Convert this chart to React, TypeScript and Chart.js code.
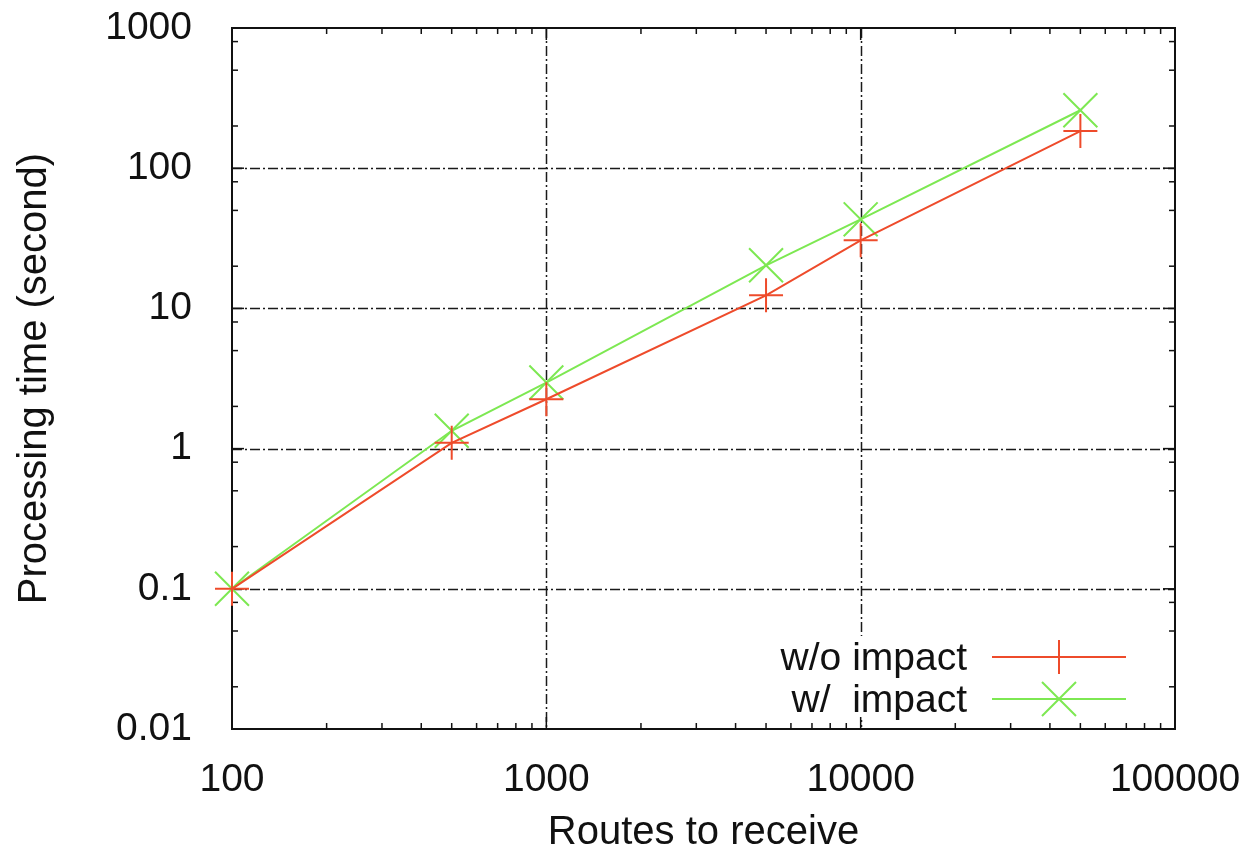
import React, { useEffect, useRef } from 'react';
import { Chart, registerables } from 'chart.js';

Chart.register(...registerables);

const routes = [100, 500, 1000, 5000, 10000, 50000];
const withoutImpact = [0.1, 1.1, 2.25, 12.4, 30.6, 184];
const withImpact = [0.1, 1.34, 2.96, 20.3, 43.2, 259];
const xTicks = [100, 1000, 10000, 100000];
const yTicks = [0.01, 0.1, 1, 10, 100, 1000];
const xMinorSteps = [2, 3, 4, 5, 6, 7, 8, 9];
const yMinorSteps = [2, 5, 8];
const seriesLabels = ['w/o impact', 'w/  impact'];
const seriesColors = ['#ee4b2b', '#7de852'];
const seriesMarkers = ['cross', 'crossRot'];
const seriesRadius = [17, 24];

const FONT = '"Liberation Sans", Arial, Helvetica, sans-serif';
const TEXT = '#111111';

const framePlugin = {
  id: 'gnuFrame',
  beforeDatasetsDraw(chart: any) {
    const { ctx, chartArea: a, scales } = chart;
    const x = scales.x;
    const y = scales.y;
    const seg = (x1: number, y1: number, x2: number, y2: number) => {
      ctx.beginPath();
      ctx.moveTo(x1, y1);
      ctx.lineTo(x2, y2);
      ctx.stroke();
    };
    ctx.save();
    // dash-dot grid
    ctx.strokeStyle = '#1a1a1a';
    ctx.lineWidth = 1.5;
    ctx.setLineDash([10, 3, 2, 3]);
    xTicks.slice(1, -1).forEach((v) => {
      const px = Math.round(x.getPixelForValue(v)) + 0.5;
      seg(px, a.top, px, a.bottom);
    });
    yTicks.slice(1, -1).forEach((v) => {
      const py = Math.round(y.getPixelForValue(v)) + 0.5;
      seg(a.left, py, a.right, py);
    });
    ctx.setLineDash([]);
    // opaque key area
    ctx.fillStyle = '#ffffff';
    ctx.fillRect(a.right - 420, a.bottom - 93, 375, 84);
    // ticks
    ctx.strokeStyle = '#111111';
    ctx.lineWidth = 1.5;
    xTicks.forEach((d, i) => {
      const px = x.getPixelForValue(d);
      seg(px, a.bottom, px, a.bottom - 12);
      seg(px, a.top, px, a.top + 12);
      if (i < xTicks.length - 1) {
        xMinorSteps.forEach((m) => {
          const p = x.getPixelForValue(d * m);
          seg(p, a.bottom, p, a.bottom - 6);
          seg(p, a.top, p, a.top + 6);
        });
      }
    });
    yTicks.forEach((d, i) => {
      const py = y.getPixelForValue(d);
      seg(a.left, py, a.left + 12, py);
      seg(a.right, py, a.right - 12, py);
      if (i < yTicks.length - 1) {
        yMinorSteps.forEach((m) => {
          const p = y.getPixelForValue(d * m);
          seg(a.left, p, a.left + 6, p);
          seg(a.right, p, a.right - 6, p);
        });
      }
    });
    // frame
    ctx.lineWidth = 2;
    ctx.strokeRect(a.left, a.top, a.right - a.left, a.bottom - a.top);
    ctx.restore();
  },
  afterDatasetsDraw(chart: any) {
    const { ctx, chartArea: a } = chart;
    ctx.save();
    chart.data.datasets.forEach((ds: any, i: number) => {
      const ly = a.bottom - 72 + i * 42;
      const x1 = a.right - 183;
      const x2 = a.right - 49;
      const cx = (x1 + x2) / 2;
      ctx.fillStyle = TEXT;
      ctx.font = `39px ${FONT}`;
      ctx.textAlign = 'right';
      ctx.textBaseline = 'alphabetic';
      ctx.fillText(ds.label, a.right - 208, ly + 13);
      ctx.strokeStyle = ds.borderColor;
      ctx.lineWidth = 2;
      ctx.beginPath();
      ctx.moveTo(x1, ly);
      ctx.lineTo(x2, ly);
      ctx.stroke();
      ctx.beginPath();
      if (ds.pointStyle === 'cross') {
        ctx.moveTo(cx - 17, ly);
        ctx.lineTo(cx + 17, ly);
        ctx.moveTo(cx, ly - 17);
        ctx.lineTo(cx, ly + 17);
      } else {
        ctx.moveTo(cx - 17, ly - 17);
        ctx.lineTo(cx + 17, ly + 17);
        ctx.moveTo(cx - 17, ly + 17);
        ctx.lineTo(cx + 17, ly - 17);
      }
      ctx.stroke();
    });
    ctx.restore();
  },
};

export default function App() {
  const canvasRef = useRef<HTMLCanvasElement | null>(null);

  useEffect(() => {
    document.body.style.margin = '0';
    const canvas = canvasRef.current;
    if (!canvas) return;
    const series = [withoutImpact, withImpact];
    const chart = new Chart(canvas, {
      type: 'line',
      data: {
        datasets: series.map((vals, i) => ({
          label: seriesLabels[i],
          data: routes.map((r, j) => ({ x: r, y: vals[j] })),
          borderColor: seriesColors[i],
          backgroundColor: seriesColors[i],
          borderWidth: 2,
          pointStyle: seriesMarkers[i] as any,
          pointRadius: seriesRadius[i],
          pointBorderWidth: 2,
          pointBorderColor: seriesColors[i],
          tension: 0,
          fill: false,
          clip: false as any,
        })),
      },
      options: {
        responsive: false,
        animation: false,
        devicePixelRatio: 1,
        layout: { padding: { top: 28, right: 81, left: 0, bottom: 0 } },
        plugins: {
          legend: { display: false },
          tooltip: { enabled: false },
        },
        scales: {
          x: {
            type: 'logarithmic',
            position: 'bottom',
            min: 100,
            max: 100000,
            grid: { display: false },
            border: { display: false },
            afterBuildTicks: (s: any) => {
              s.ticks = xTicks.map((v) => ({ value: v }));
            },
            afterFit: (s: any) => {
              s.height = 125;
              s.paddingLeft = 0;
              s.paddingRight = 0;
              s.paddingTop = 0;
              s.paddingBottom = 0;
            },
            ticks: {
              autoSkip: false,
              maxRotation: 0,
              padding: 20,
              color: TEXT,
              font: { family: FONT, size: 39 },
              callback: (v: any) => String(v),
            },
            title: {
              display: true,
              text: 'Routes to receive',
              color: TEXT,
              font: { family: FONT, size: 40, lineHeight: 1 },
              padding: { top: 0, bottom: 1 },
            },
          },
          y: {
            type: 'logarithmic',
            position: 'left',
            min: 0.01,
            max: 1000,
            grid: { display: false },
            border: { display: false },
            afterBuildTicks: (s: any) => {
              s.ticks = yTicks.map((v) => ({ value: v }));
            },
            afterFit: (s: any) => {
              s.width = 232;
              s.paddingLeft = 0;
              s.paddingRight = 0;
              s.paddingTop = 0;
              s.paddingBottom = 0;
            },
            ticks: {
              autoSkip: false,
              padding: 32,
              color: TEXT,
              font: { family: FONT, size: 39 },
              callback: (v: any) => String(v),
            },
            title: {
              display: true,
              text: 'Processing time (second)',
              color: TEXT,
              font: { family: FONT, size: 40, lineHeight: 1 },
              padding: { top: 15, bottom: 0 },
            },
          },
        },
      },
      plugins: [framePlugin],
    });
    return () => chart.destroy();
  }, []);

  return (
    <div style={{ width: 1256, height: 854, background: '#fff' }}>
      <canvas ref={canvasRef} width={1256} height={854} style={{ display: 'block' }} />
    </div>
  );
}
